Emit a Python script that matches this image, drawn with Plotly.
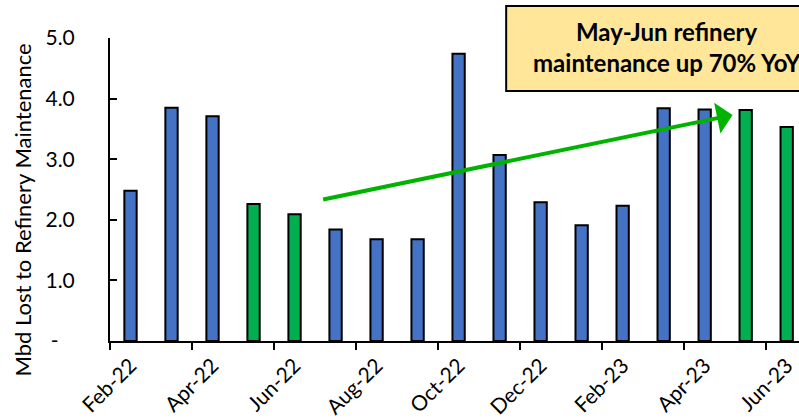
import plotly.graph_objects as go

# Monthly refinery capacity offline for maintenance (million barrels per day)
months = ["Feb-22", "Mar-22", "Apr-22", "May-22", "Jun-22", "Jul-22", "Aug-22",
          "Sep-22", "Oct-22", "Nov-22", "Dec-22", "Jan-23", "Feb-23", "Mar-23",
          "Apr-23", "May-23", "Jun-23"]
mbd_lost = [2.48, 3.85, 3.71, 2.26, 2.09, 1.84, 1.68, 1.68, 4.74, 3.07, 2.29,
            1.91, 2.23, 3.84, 3.82, 3.81, 3.53]
highlight_months = ["May-22", "Jun-22", "May-23", "Jun-23"]

ytick_vals = [0, 1, 2, 3, 4, 5]
ytick_text = ["-\u00a0\u00a0\u00a0", "1.0", "2.0", "3.0", "4.0", "5.0"]

BLUE = "#4472C4"
GREEN = "#00B050"
ARROW_GREEN = "#00B300"
FONT = "Lato"

bar_colors = [GREEN if m in highlight_months else BLUE for m in months]

fig = go.Figure(
    go.Bar(
        x=months,
        y=mbd_lost,
        marker=dict(color=bar_colors, line=dict(color="black", width=2)),
    )
)

fig.update_layout(
    width=799,
    height=419,
    margin=dict(l=110, r=0, t=38, b=78),
    paper_bgcolor="white",
    plot_bgcolor="white",
    bargap=0.7,
    showlegend=False,
    font=dict(family=FONT, size=21, color="black"),
)

fig.update_xaxes(
    type="category",
    range=[-0.5, 16.30],
    tickmode="linear",
    tick0=0,
    dtick=2,
    tickson="boundaries",
    ticks="outside",
    ticklen=7,
    tickwidth=2,
    tickcolor="black",
    tickangle=-45,
    ticklabelstandoff=2,
    automargin=False,
    showline=True,
    linecolor="black",
    linewidth=2,
    showgrid=False,
    zeroline=False,
    tickfont=dict(family=FONT, size=21, color="black"),
)

fig.update_yaxes(
    range=[0, 5],
    tickmode="array",
    tickvals=ytick_vals,
    ticktext=ytick_text,
    ticks="inside",
    ticklen=7,
    tickwidth=2,
    tickcolor="black",
    ticklabelstandoff=29,
    automargin=False,
    showline=True,
    linecolor="black",
    linewidth=2,
    showgrid=False,
    zeroline=False,
    tickfont=dict(family=FONT, size=21, color="black"),
)

# Vertical axis title
fig.add_annotation(
    text="Mbd Lost to Refinery Maintenance",
    xref="paper", yref="paper",
    x=-0.127, y=0.432,
    xanchor="center", yanchor="middle",
    textangle=-90,
    showarrow=False,
    font=dict(family=FONT, size=22, color="black"),
)

# Trend arrow from the 2022 maintenance season to the 2023 one
fig.add_annotation(
    x=14.68, y=3.73,
    ax=4.66, ay=2.33,
    xref="x", yref="y", axref="x", ayref="y",
    text="",
    showarrow=True,
    arrowhead=1,
    arrowsize=1.3,
    arrowwidth=4,
    arrowcolor=ARROW_GREEN,
)

# Call-out box
fig.add_shape(
    type="rect",
    xref="paper", yref="paper",
    x0=0.575, x1=1.08, y0=0.825, y1=1.106,
    fillcolor="#FFE699",
    line=dict(color="black", width=2),
    layer="above",
)
fig.add_annotation(
    text="<b>May-Jun refinery</b>",
    xref="paper", yref="paper",
    x=0.808, y=1.02,
    xanchor="center", yanchor="middle",
    showarrow=False,
    font=dict(family=FONT, size=24, color="black"),
)
fig.add_annotation(
    text="<b>maintenance up 70% YoY</b>",
    xref="paper", yref="paper",
    x=0.808, y=0.918,
    xanchor="center", yanchor="middle",
    showarrow=False,
    font=dict(family=FONT, size=24, color="black"),
)

fig.write_html("out.html")
